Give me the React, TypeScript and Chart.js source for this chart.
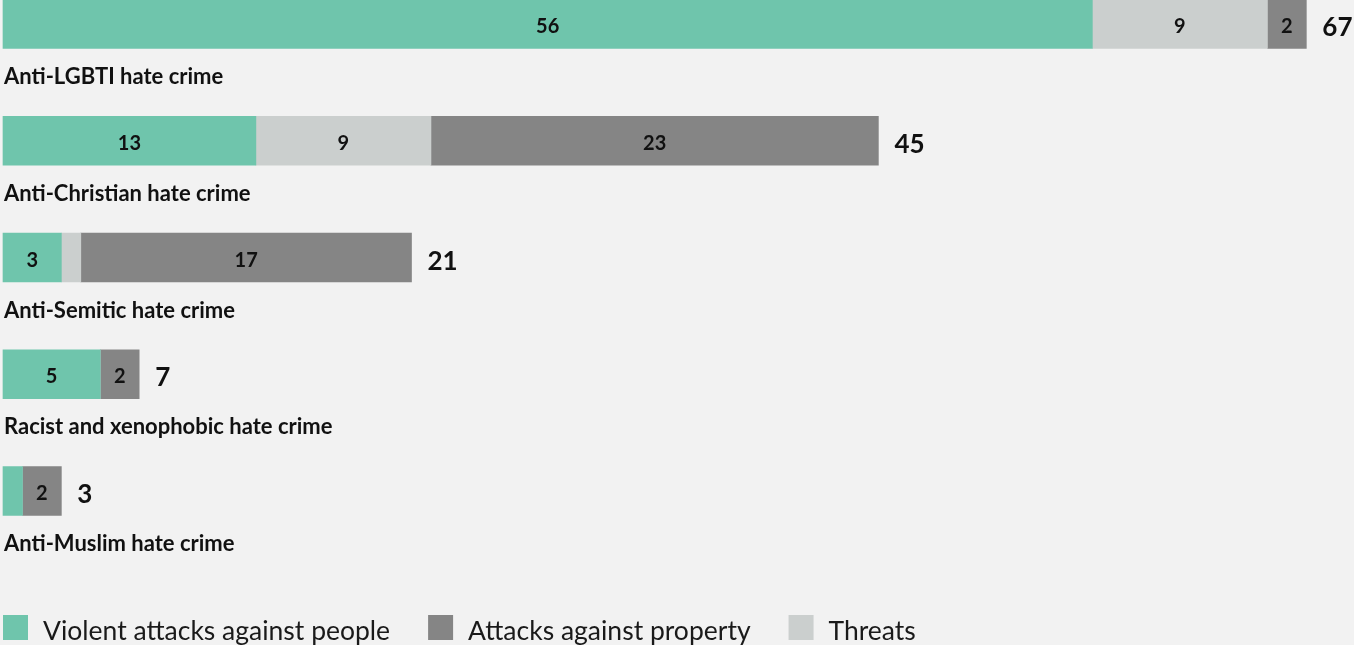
import React, { useEffect, useRef } from 'react';
import { Chart, registerables } from 'chart.js';

Chart.register(...registerables);

const categories = [
  'Anti-LGBTI hate crime',
  'Anti-Christian hate crime',
  'Anti-Semitic hate crime',
  'Racist and xenophobic hate crime',
  'Anti-Muslim hate crime',
];
const violent = [56, 13, 3, 5, 1];
const threats = [9, 9, 1, 0, 0];
const property = [2, 23, 17, 2, 2];
const seriesNames = ['Violent attacks against people', 'Threats', 'Attacks against property'];
const legendOrder = [0, 2, 1];
const seriesColors = ['#6fc5ac', '#cbcfce', '#858585'];

const FONT = 'Lato, "Open Sans", sans-serif';

const labelPlugin = {
  id: 'customLabels',
  afterDraw(chart: any) {
    const ctx = chart.ctx as CanvasRenderingContext2D;
    const xs = chart.scales.x;
    const ys = chart.scales.y;
    ctx.save();
    ctx.fillStyle = '#111111';
    // segment values
    chart.data.datasets.forEach((ds: any, di: number) => {
      const meta = chart.getDatasetMeta(di);
      meta.data.forEach((el: any, i: number) => {
        const v = ds.data[i];
        if (v < 2) return;
        const p = el.getProps(['x', 'base', 'y'], true);
        ctx.font = `bold 20px ${FONT}`;
        ctx.textAlign = 'center';
        ctx.textBaseline = 'alphabetic';
        ctx.fillText(String(v), (p.x + p.base) / 2, p.y + 9);
      });
    });
    // totals and category labels
    chart.data.labels.forEach((c: string, i: number) => {
      let total = 0;
      chart.data.datasets.forEach((ds: any) => (total += ds.data[i]));
      const px = xs.getPixelForValue(total);
      const py = ys.getPixelForValue(i);
      ctx.textAlign = 'left';
      ctx.textBaseline = 'alphabetic';
      ctx.font = `bold 26px ${FONT}`;
      ctx.fillText(String(total), px + 16, py + 12);
      ctx.font = `bold 22px ${FONT}`;
      ctx.fillText(c, xs.left + 1, py + 60);
    });
    // legend
    let lx = 3;
    const boxTop = 615;
    ctx.font = `26.5px ${FONT}`;
    legendOrder.forEach((di) => {
      const ds = chart.data.datasets[di];
      ctx.fillStyle = ds.backgroundColor;
      ctx.fillRect(lx, boxTop, 25, 25);
      lx += 25 + 15;
      ctx.fillStyle = '#1a1a1a';
      ctx.textAlign = 'left';
      ctx.textBaseline = 'alphabetic';
      ctx.fillText(ds.label, lx, 640);
      lx += ctx.measureText(ds.label).width + 38;
    });
    ctx.restore();
  },
};

export default function App() {
  const ref = useRef<HTMLCanvasElement>(null);
  useEffect(() => {
    document.body.style.margin = '0';
    const seriesData = [violent, threats, property];
    const chart = new Chart(ref.current as HTMLCanvasElement, {
      type: 'bar',
      data: {
        labels: categories,
        datasets: seriesData.map((d, k) => ({
          label: seriesNames[k],
          data: d,
          backgroundColor: seriesColors[k],
          borderWidth: 0,
          barThickness: 49,
          clip: false as any,
        })),
      },
      options: {
        indexAxis: 'y',
        animation: false,
        responsive: true,
        maintainAspectRatio: false,
        layout: { padding: { left: 3, right: 0, top: 24, bottom: 154 } },
        scales: {
          x: { stacked: true, min: 0, max: 69.45, display: false },
          y: { stacked: true, offset: false, display: false },
        },
        plugins: {
          legend: { display: false },
          tooltip: { enabled: false },
        },
      },
      plugins: [labelPlugin],
    });
    return () => chart.destroy();
  }, []);
  return (
    <div
      style={{
        position: 'fixed',
        left: 0,
        top: 0,
        width: '1354px',
        height: '645px',
        background: '#f2f2f2',
      }}
    >
      <canvas ref={ref} />
    </div>
  );
}
